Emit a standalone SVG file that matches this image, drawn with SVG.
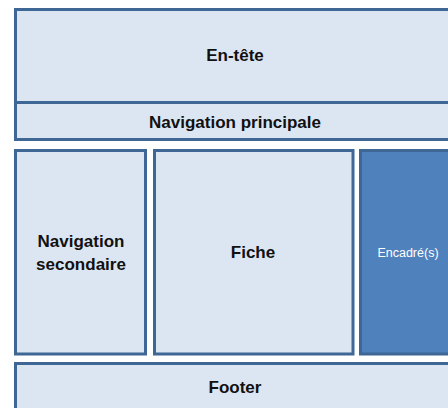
<svg xmlns="http://www.w3.org/2000/svg" width="448" height="408" viewBox="0 0 448 408">
<style>
.box{fill:#dce6f2;stroke:#3f6796;stroke-width:3}
.dark{fill:#4f81bd;stroke:#3f6796;stroke-width:3}
.lbl{font-family:"Liberation Sans",Arial,sans-serif;font-weight:bold;font-size:17px;fill:#111;text-anchor:middle}
.lblw{font-family:"Liberation Sans",Arial,sans-serif;font-size:12.5px;fill:#fff;text-anchor:middle}
</style>
<rect width="448" height="408" fill="#ffffff"/>
<g id="entete">
<rect class="box" x="15.5" y="9.5" width="450" height="93"/>
<text class="lbl" x="235" y="61">En-tête</text>
</g>
<g id="nav-principale">
<rect class="box" x="15.5" y="102.5" width="450" height="37"/>
<text class="lbl" x="235" y="128">Navigation principale</text>
</g>
<g id="nav-secondaire">
<rect class="box" x="15.5" y="150.5" width="130" height="203.5"/>
<text class="lbl" x="81" y="246.5">Navigation</text>
<text class="lbl" x="81" y="269.5">secondaire</text>
</g>
<g id="fiche">
<rect class="box" x="154.5" y="150.5" width="198.5" height="203.5"/>
<text class="lbl" x="253" y="258">Fiche</text>
</g>
<g id="encadre">
<rect class="dark" x="360.5" y="150.5" width="100" height="203.5"/>
<text class="lblw" x="408" y="256.5">Encadré(s)</text>
</g>
<g id="footer">
<rect class="box" x="15.5" y="363.5" width="450" height="50"/>
<text class="lbl" x="235" y="393">Footer</text>
</g>
<g id="connectors"></g>
</svg>
